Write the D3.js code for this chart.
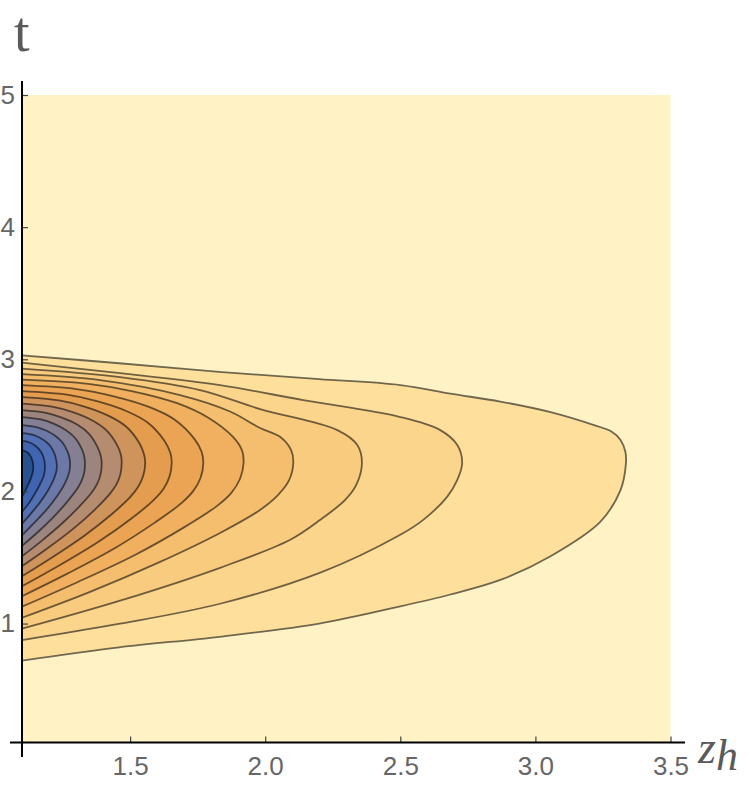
<!DOCTYPE html>
<html><head><meta charset="utf-8">
<script src="https://cdn.jsdelivr.net/npm/d3@7"></script>
<style>body{margin:0;background:#fff}svg{display:block}</style>
</head><body>
<svg id="chart" width="750" height="786"></svg>
<script>
// ---- data ----
const xDomain = [1.1, 3.5];          // z_h range
const yDomain = [0.1, 5];            // t range
const xMajorTicks = [1.5, 2.0, 2.5, 3.0, 3.5];
const yMajorTicks = [1, 2, 3, 4, 5];
const xMinorTicks = [1.2,1.3,1.4,1.6,1.7,1.8,1.9,2.1,2.2,2.3,2.4,2.6,2.7,2.8,2.9,3.1,3.2,3.3,3.4];
const yMinorTicks = [0.2,0.4,0.6,0.8,1.2,1.4,1.6,1.8,2.2,2.4,2.6,2.8,3.2,3.4,3.6,3.8,4.2,4.4,4.6,4.8];

// contour curves, outermost (level 1) to innermost (level 15), points [z_h, t]
const contour01 = [[1.1,3.03],[1.46,2.97],[1.83,2.905],[2.2,2.85],[2.5,2.805],[2.685,2.74],[2.87,2.68],[3.056,2.6],[3.22,2.5],[3.28,2.455],[3.315,2.39],[3.333,2.3],[3.335,2.21],[3.315,2.01],[3.24,1.77],[3.056,1.51],[2.87,1.33],[2.685,1.22],[2.5,1.13],[2.2,1.0],[1.83,0.9],[1.46,0.82],[1.1,0.72]];
const contour02 = [[1.1,2.974],[1.463,2.895],[1.833,2.804],[2.141,2.691],[2.5,2.563],[2.648,2.464],[2.711,2.351],[2.729,2.215],[2.711,2.087],[2.674,1.961],[2.585,1.785],[2.5,1.672],[2.204,1.385],[1.833,1.15],[1.463,0.999],[1.1,0.875]];
const contour03 = [[1.1,2.929],[1.463,2.865],[1.759,2.767],[1.981,2.623],[2.267,2.464],[2.341,2.351],[2.358,2.215],[2.337,2.049],[2.296,1.936],[2.204,1.785],[2.093,1.634],[1.833,1.422],[1.463,1.173],[1.1,0.961]];
const contour04 = [[1.1,2.887],[1.389,2.842],[1.685,2.729],[1.87,2.605],[1.981,2.48],[2.056,2.412],[2.096,2.313],[2.104,2.215],[2.089,2.087],[2.048,1.974],[1.981,1.86],[1.833,1.686],[1.611,1.467],[1.352,1.24],[1.1,1.044]];
const contour05 = [[1.1,2.846],[1.346,2.814],[1.51,2.758],[1.674,2.668],[1.785,2.563],[1.881,2.412],[1.915,2.306],[1.92,2.215],[1.907,2.096],[1.874,1.987],[1.821,1.889],[1.698,1.726],[1.518,1.519],[1.305,1.313],[1.1,1.128]];
const contour06 = [[1.1,2.804],[1.301,2.775],[1.436,2.722],[1.57,2.64],[1.664,2.545],[1.738,2.398],[1.765,2.298],[1.771,2.215],[1.761,2.104],[1.734,2.004],[1.691,1.913],[1.59,1.762],[1.443,1.57],[1.268,1.378],[1.1,1.207]];
const contour07 = [[1.1,2.759],[1.266,2.732],[1.377,2.683],[1.488,2.607],[1.566,2.52],[1.627,2.384],[1.649,2.292],[1.654,2.215],[1.646,2.113],[1.624,2.02],[1.588,1.936],[1.505,1.795],[1.383,1.619],[1.239,1.441],[1.1,1.282]];
const contour08 = [[1.1,2.714],[1.237,2.689],[1.328,2.644],[1.419,2.574],[1.483,2.495],[1.533,2.37],[1.551,2.285],[1.556,2.215],[1.549,2.121],[1.53,2.035],[1.501,1.958],[1.433,1.829],[1.332,1.667],[1.214,1.504],[1.1,1.358]];
const contour09 = [[1.1,2.665],[1.211,2.642],[1.285,2.602],[1.359,2.539],[1.41,2.467],[1.451,2.354],[1.466,2.278],[1.469,2.215],[1.464,2.129],[1.449,2.051],[1.425,1.981],[1.37,1.863],[1.288,1.715],[1.192,1.566],[1.1,1.434]];
const contour10 = [[1.1,2.616],[1.189,2.595],[1.248,2.558],[1.307,2.502],[1.348,2.436],[1.38,2.334],[1.392,2.265],[1.395,2.208],[1.391,2.131],[1.379,2.061],[1.36,1.998],[1.316,1.894],[1.25,1.761],[1.174,1.628],[1.1,1.509]];
const contour11 = [[1.1,2.563],[1.17,2.545],[1.217,2.513],[1.263,2.463],[1.296,2.406],[1.322,2.318],[1.331,2.258],[1.333,2.208],[1.33,2.14],[1.32,2.078],[1.305,2.022],[1.27,1.929],[1.219,1.811],[1.159,1.693],[1.1,1.588]];
const contour12 = [[1.1,2.502],[1.153,2.487],[1.189,2.461],[1.224,2.42],[1.249,2.372],[1.269,2.299],[1.276,2.249],[1.278,2.208],[1.275,2.148],[1.26,2.067],[1.23,1.965],[1.191,1.862],[1.144,1.76],[1.1,1.668]];
const contour13 = [[1.1,2.442],[1.139,2.43],[1.164,2.408],[1.19,2.374],[1.208,2.335],[1.222,2.275],[1.229,2.2],[1.227,2.151],[1.216,2.085],[1.194,1.999],[1.166,1.915],[1.132,1.83],[1.1,1.755]];
const contour14 = [[1.1,2.382],[1.126,2.372],[1.151,2.344],[1.171,2.298],[1.181,2.252],[1.185,2.193],[1.181,2.12],[1.168,2.06],[1.149,1.988],[1.126,1.913],[1.1,1.845]];
const contour15 = [[1.1,2.313],[1.121,2.295],[1.136,2.249],[1.142,2.178],[1.133,2.099],[1.119,2.035],[1.1,1.959]];
const contours = [contour01,contour02,contour03,contour04,contour05,contour06,contour07,contour08,contour09,contour10,contour11,contour12,contour13,contour14,contour15];

// ---- styles ----
const bandColors = ["#FFF2C4","#FEE09C","#FCD58C","#F9CB7F","#F5BE6E","#F0B060","#EBA453","#E49C4E","#CF935C","#B68C70","#9D857F","#857F93","#6C79A8","#5470B4","#3F65B2","#27518F"];

const svg = d3.select("#chart");
const x = d3.scaleLinear().domain(xDomain).range([22, 670.5]);
const y = d3.scaleLinear().domain(yDomain).range([742.5, 95]);

// plot background
svg.append("rect")
  .attr("x", x(xDomain[0])).attr("y", y(yDomain[1]))
  .attr("width", x(xDomain[1]) - x(xDomain[0]))
  .attr("height", y(yDomain[0]) - y(yDomain[1]))
  .attr("fill", bandColors[0]);

const line = d3.line().x(d => x(d[0])).y(d => y(d[1])).curve(d3.curveCatmullRom.alpha(0.5));

const g = svg.append("g");
contours.forEach((c, i) => {
  g.append("path").attr("d", line(c) + "Z").attr("fill", bandColors[i + 1]).attr("stroke", "none");
});
contours.forEach((c) => {
  g.append("path").attr("d", line(c)).attr("fill", "none")
    .attr("stroke", "#000").attr("stroke-opacity", 0.56).attr("stroke-width", 1.8)
    .attr("stroke-linejoin", "round");
});

// axes
const font = "'Liberation Sans', Arial, sans-serif";
const xAxisG = svg.append("g").attr("transform", `translate(0,${y(yDomain[0])})`);
xAxisG.call(d3.axisBottom(x).tickValues(xMinorTicks).tickSize(-3).tickFormat(""));
xAxisG.call(d3.axisBottom(x).tickValues(xMajorTicks).tickSize(-6).tickPadding(14).tickFormat(d3.format(".1f")));
const yAxisG = svg.append("g").attr("transform", `translate(${x(xDomain[0])},0)`);
yAxisG.call(d3.axisLeft(y).tickValues(yMinorTicks).tickSize(-3).tickFormat(""));
yAxisG.call(d3.axisLeft(y).tickValues(yMajorTicks).tickSize(-6).tickPadding(7).tickFormat(d3.format("d")));
svg.selectAll(".domain").remove();
svg.selectAll(".tick line").attr("stroke", "#444").attr("stroke-width", 1.2);
svg.selectAll(".tick text").attr("font-family", font).attr("font-size", 26).attr("fill", "#666");

// axis lines
svg.append("line").attr("x1", 10).attr("x2", 685).attr("y1", y(yDomain[0])).attr("y2", y(yDomain[0]))
  .attr("stroke", "#000").attr("stroke-width", 2);
svg.append("line").attr("x1", x(xDomain[0])).attr("x2", x(xDomain[0])).attr("y1", 81).attr("y2", 757)
  .attr("stroke", "#000").attr("stroke-width", 2);

// axis labels
svg.append("text").attr("x", 14).attr("y", 51).text("t")
  .attr("font-family", "'Liberation Serif', 'Times New Roman', serif").attr("font-size", 56).attr("fill", "#5a5a5a");
const zl = svg.append("text").attr("x", 698).attr("y", 763)
  .attr("font-family", "'Liberation Serif', 'Times New Roman', serif").attr("font-style", "italic")
  .attr("font-size", 46).attr("fill", "#5a5a5a");
zl.append("tspan").text("z");
zl.append("tspan").attr("dy", 7).attr("font-size", 44).text("h");
</script>
</body></html>
